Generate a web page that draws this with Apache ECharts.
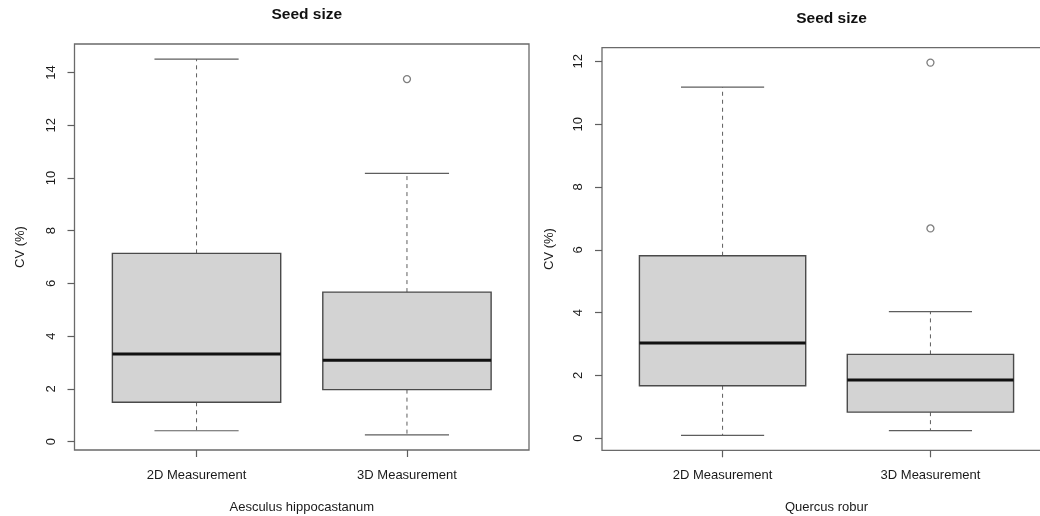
<!DOCTYPE html>
<html>
<head>
<meta charset="utf-8">
<script src="https://cdn.jsdelivr.net/npm/echarts@6/dist/echarts.min.js"></script>
<style>
html,body{margin:0;padding:0;background:#fff;}
#chart{width:1040px;height:516px;}
</style>
</head>
<body>
<div id="chart"></div>
<script>
// ---- data ----
const categories = ['2D Measurement', '3D Measurement'];
const panelTitles = ['Seed size', 'Seed size'];
const speciesNames = ['Aesculus hippocastanum', 'Quercus robur'];
const yLabel = 'CV (%)';
// [lowerWhisker, Q1, median, Q3, upperWhisker]
const aesculusStats = [
  [0.41, 1.49, 3.32, 7.14, 14.51],
  [0.25, 1.97, 3.08, 5.67, 10.17]
];
const aesculusOutliers = [[2, 13.75]];
const quercusStats = [
  [0.09, 1.67, 3.03, 5.81, 11.18],
  [0.24, 0.83, 1.85, 2.67, 4.03]
];
const quercusOutliers = [[2, 11.96], [2, 6.68]];
const aesculusTicks = [0, 2, 4, 6, 8, 10, 12, 14];
const quercusTicks = [0, 2, 4, 6, 8, 10, 12];

// ---- helpers ----
function rangeOf(stats, outliers) {
  let lo = Infinity, hi = -Infinity;
  stats.forEach(s => s.forEach(v => { lo = Math.min(lo, v); hi = Math.max(hi, v); }));
  outliers.forEach(o => { lo = Math.min(lo, o[1]); hi = Math.max(hi, o[1]); });
  const pad = (hi - lo) * 0.04;
  return [lo - pad, hi + pad];
}
const FONT = 'Liberation Sans, Arial, sans-serif';
const LINE = '#5e5e5e';
const TEXT = '#1a1a1a';

function renderBox(params, api) {
  const x = api.value(0);
  const lw = api.value(1), q1 = api.value(2), med = api.value(3), q3 = api.value(4), hw = api.value(5);
  const pL = api.coord([x - 0.4, q3]);
  const pR = api.coord([x + 0.4, q1]);
  const c = (v) => api.coord([x, v]);
  const capL = api.coord([x - 0.2, 0])[0], capR = api.coord([x + 0.2, 0])[0];
  const cx = c(0)[0];
  const yHW = c(hw)[1], yQ3 = c(q3)[1], yQ1 = c(q1)[1], yLW = c(lw)[1], yMed = c(med)[1];
  return {
    type: 'group',
    children: [
      { type: 'line', shape: { x1: cx, y1: yQ3, x2: cx, y2: yHW }, style: { stroke: LINE, lineWidth: 1, lineDash: [4, 4] } },
      { type: 'line', shape: { x1: cx, y1: yQ1, x2: cx, y2: yLW }, style: { stroke: LINE, lineWidth: 1, lineDash: [4, 4] } },
      { type: 'line', shape: { x1: capL, y1: yHW, x2: capR, y2: yHW }, style: { stroke: LINE, lineWidth: 1.2 } },
      { type: 'line', shape: { x1: capL, y1: yLW, x2: capR, y2: yLW }, style: { stroke: LINE, lineWidth: 1.2 } },
      { type: 'rect', shape: { x: pL[0], y: pL[1], width: pR[0] - pL[0], height: pR[1] - pL[1] }, style: { fill: '#d3d3d3', stroke: '#4a4a4a', lineWidth: 1.4 } },
      { type: 'line', shape: { x1: pL[0], y1: yMed, x2: pR[0], y2: yMed }, style: { stroke: '#111', lineWidth: 3 } }
    ]
  };
}

const panels = [
  { stats: aesculusStats, outliers: aesculusOutliers, ticks: aesculusTicks, grid: { left: 74.5, top: 44, width: 454.5, height: 406 } },
  { stats: quercusStats, outliers: quercusOutliers, ticks: quercusTicks, grid: { left: 602, top: 47.7, width: 449, height: 402.6 } }
];

const grids = [], xAxes = [], yAxes = [], series = [], titles = [];
panels.forEach((p, i) => {
  const yr = rangeOf(p.stats, p.outliers);
  grids.push(Object.assign({ show: true, borderColor: '#6a6a6a', borderWidth: 1.3, backgroundColor: 'transparent', outerBoundsMode: 'none', containLabel: false }, p.grid));
  xAxes.push({
    type: 'value', gridIndex: i, min: 0.42, max: 2.58,
    name: speciesNames[i], nameLocation: 'middle', nameGap: 51,
    nameTextStyle: { fontFamily: FONT, fontSize: 13, color: TEXT },
    axisLine: { show: false, onZero: false },
    splitLine: { show: false },
    axisTick: { show: true, length: 7, customValues: [1, 2], lineStyle: { color: LINE, width: 1.2 } },
    axisLabel: { customValues: [1, 2], margin: 19, fontFamily: FONT, fontSize: 13, color: TEXT,
      formatter: v => categories[Math.round(v) - 1] || '' }
  });
  yAxes.push({
    type: 'value', gridIndex: i, min: yr[0], max: yr[1],
    name: yLabel, nameLocation: 'middle', nameGap: i === 0 ? 48 : 46,
    nameTextStyle: { fontFamily: FONT, fontSize: 13, color: TEXT },
    axisLine: { show: false, onZero: false },
    splitLine: { show: false },
    axisTick: { show: true, length: 7, customValues: p.ticks, lineStyle: { color: LINE, width: 1.2 } },
    axisLabel: { customValues: p.ticks, rotate: 90, margin: 17, fontFamily: FONT, fontSize: 13, color: TEXT }
  });
  series.push({
    type: 'custom', xAxisIndex: i, yAxisIndex: i,
    renderItem: renderBox,
    encode: { x: 0, y: [1, 2, 3, 4, 5] },
    data: p.stats.map((s, k) => [k + 1].concat(s)),
    silent: true
  });
  series.push({
    type: 'scatter', xAxisIndex: i, yAxisIndex: i,
    symbol: 'circle', symbolSize: 7,
    itemStyle: { color: '#fff', borderColor: LINE, borderWidth: 1.3 },
    data: p.outliers, silent: true
  });
  titles.push({
    text: panelTitles[i], textAlign: 'center',
    left: p.grid.left + p.grid.width / 2, top: i === 0 ? 2 : 6,
    textStyle: { fontFamily: FONT, fontSize: 15.5, fontWeight: 'bold', color: '#111' }
  });
});

const chart = echarts.init(document.getElementById('chart'), null, { renderer: 'canvas' });
chart.setOption({
  animation: false,
  backgroundColor: '#fff',
  title: titles,
  grid: grids,
  xAxis: xAxes,
  yAxis: yAxes,
  series: series
});
</script>
</body>
</html>
